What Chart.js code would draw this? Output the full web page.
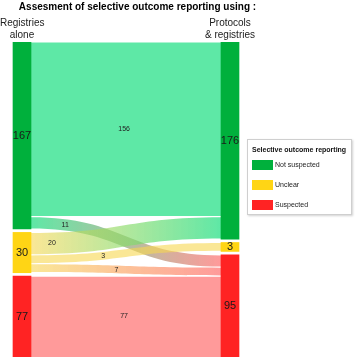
<!DOCTYPE html>
<html><head><meta charset="utf-8">
<script src="https://cdn.jsdelivr.net/npm/chart.js@4/dist/chart.umd.min.js"></script>
<style>
html,body{margin:0;padding:0;background:#fff;}
#wrap{position:relative;width:357px;height:357px;overflow:hidden;font-family:"Liberation Sans",Arial,sans-serif;}
#c{position:absolute;left:0;top:0;}
.t{position:absolute;white-space:nowrap;}
#title{left:0;width:275px;top:1px;text-align:center;font-weight:bold;font-size:10px;line-height:12px;color:#000;}
.hdr{top:17px;text-align:center;font-size:10px;line-height:11.5px;color:#222;}
#legend{position:absolute;left:247px;top:139px;width:103px;height:74px;border:1px solid #cfcfcf;box-shadow:1px 1px 2px rgba(0,0,0,0.18);background:#fff;}
#legend .lt{position:absolute;left:4px;top:5px;font-weight:bold;font-size:7px;line-height:9px;color:#111;white-space:nowrap;}
#legend .it{position:absolute;left:4px;height:10px;width:95px;}
#legend .sw{position:absolute;left:0;top:0;width:21px;height:10px;}
#legend .lb{position:absolute;left:23px;top:0;font-size:7px;line-height:10px;color:#222;white-space:nowrap;}
</style>
</head><body>
<div id="wrap">
<canvas id="c" width="357" height="357"></canvas>
<div id="title" class="t"></div>
<div id="h0" class="t hdr"></div>
<div id="h1" class="t hdr"></div>
<div id="legend"><div class="lt" id="legTitle"></div></div>
</div>
<script>
// ---- data ----
const chartTitle = 'Assesment of selective outcome reporting using :';
const columnLabels = [['Registries', 'alone'], ['Protocols', '& registries']];
const legendTitle = 'Selective outcome reporting';
const categories = ['Not suspected', 'Unclear', 'Suspected'];
const flowSource = [0, 0, 1, 1, 1, 2];
const flowTarget = [0, 2, 0, 1, 2, 2];
const flowValues = [156, 11, 20, 3, 7, 77];

// ---- styles / layout ----
const nodeColors = ['#00b03c', '#ffd515', '#ff2323'];
const flowColors = ['rgba(26,222,128,0.7)', 'rgba(247,215,80,0.6)', 'rgba(255,100,100,0.65)'];
const flowLabelT = [0.49, 0.18, 0.11, 0.38, 0.45, 0.49];
const GAP = 3;        // gap between nodes (value units)
const MIN_FLOW = 8;   // minimum drawn thickness of a flow (value units)
const BAR_W = 18;

// ---- text ----
document.getElementById('title').textContent = chartTitle;
const h0 = document.getElementById('h0');
h0.innerHTML = columnLabels[0].join('<br>'); h0.style.left = '0px'; h0.style.width = '44px';
const h1 = document.getElementById('h1');
h1.innerHTML = columnLabels[1].join('<br>'); h1.style.left = '190px'; h1.style.width = '80px';
document.getElementById('legTitle').textContent = legendTitle;
const leg = document.getElementById('legend');
categories.forEach((c, i) => {
  const it = document.createElement('div');
  it.className = 'it'; it.style.top = (20 + i * 20) + 'px';
  const sw = document.createElement('div'); sw.className = 'sw'; sw.style.background = nodeColors[i];
  const lb = document.createElement('div'); lb.className = 'lb'; lb.textContent = c;
  it.appendChild(sw); it.appendChild(lb); leg.appendChild(it);
});

// ---- layout of nodes / flows in value units ----
const n = flowValues.length;
const thick = flowValues.map(v => Math.max(v, MIN_FLOW));
const fl = flowValues.map(() => ({}));
const nodes = [[], []];
for (let side = 0; side < 2; side++) {
  let cur = 0;
  categories.forEach((c, ci) => {
    const idx = [];
    for (let i = 0; i < n; i++) if ((side === 0 ? flowSource[i] : flowTarget[i]) === ci) idx.push(i);
    idx.sort((a, b) => side === 0 ? flowTarget[a] - flowTarget[b] : flowSource[a] - flowSource[b]);
    const start = cur; let total = 0;
    idx.forEach(i => {
      fl[i][side] = [cur, cur + thick[i]];
      cur += thick[i]; total += flowValues[i];
    });
    nodes[side][ci] = {start, end: cur, total};
    cur += GAP;
  });
}

const datasets = categories.map((c, ci) => ({
  label: c,
  data: [{x: 0, y: [nodes[0][ci].start, nodes[0][ci].end]}, {x: 1, y: [nodes[1][ci].start, nodes[1][ci].end]}],
  backgroundColor: nodeColors[ci],
  borderWidth: 0,
  barThickness: BAR_W,
  grouped: false
}));

function bez(p0, p1, p2, p3, s) {
  const u = 1 - s;
  return u*u*u*p0 + 3*u*u*s*p1 + 3*u*s*s*p2 + s*s*s*p3;
}

const flowPlugin = {
  id: 'flows',
  beforeDatasetsDraw(chart) {
    const {ctx, chartArea: a, scales: {x, y}} = chart;
    const half = chart.getDatasetMeta(0).data[0].width / 2;
    const x0 = x.getPixelForValue(0) + half, x1 = x.getPixelForValue(1) - half;
    const mx = (x0 + x1) / 2;
    ctx.save();
    ctx.beginPath(); ctx.rect(a.left, a.top, a.right - a.left, a.bottom - a.top); ctx.clip();
    for (let i = 0; i < n; i++) {
      const ins = 0.6;
      const ya = y.getPixelForValue(fl[i][0][0]) + ins, yb = y.getPixelForValue(fl[i][0][1]) - ins;
      const za = y.getPixelForValue(fl[i][1][0]) + ins, zb = y.getPixelForValue(fl[i][1][1]) - ins;
      ctx.beginPath();
      ctx.moveTo(x0, ya);
      ctx.bezierCurveTo(mx, ya, mx, za, x1, za);
      ctx.lineTo(x1, zb);
      ctx.bezierCurveTo(mx, zb, mx, yb, x0, yb);
      ctx.closePath();
      const cs = flowColors[flowSource[i]], ct = flowColors[flowTarget[i]];
      if (cs === ct) ctx.fillStyle = cs;
      else {
        const g = ctx.createLinearGradient(x0, 0, x1, 0);
        g.addColorStop(0, cs); g.addColorStop(1, ct);
        ctx.fillStyle = g;
      }
      ctx.fill();
    }
    ctx.restore();
  },
  afterDatasetsDraw(chart) {
    const {ctx, chartArea: a, scales: {x, y}} = chart;
    const half = chart.getDatasetMeta(0).data[0].width / 2;
    const x0 = x.getPixelForValue(0) + half, x1 = x.getPixelForValue(1) - half;
    const mx = (x0 + x1) / 2;
    ctx.save();
    ctx.textAlign = 'center'; ctx.textBaseline = 'middle';
    // flow labels
    ctx.font = '7px "Liberation Sans", Arial, sans-serif';
    ctx.fillStyle = '#222';
    for (let i = 0; i < n; i++) {
      const tx = x0 + flowLabelT[i] * (x1 - x0);
      let lo = 0, hi = 1;
      for (let k = 0; k < 40; k++) { const m = (lo + hi) / 2; if (bez(x0, mx, mx, x1, m) < tx) lo = m; else hi = m; }
      const s = (lo + hi) / 2;
      let ta = bez(y.getPixelForValue(fl[i][0][0]), y.getPixelForValue(fl[i][0][0]), y.getPixelForValue(fl[i][1][0]), y.getPixelForValue(fl[i][1][0]), s);
      let tb = bez(y.getPixelForValue(fl[i][0][1]), y.getPixelForValue(fl[i][0][1]), y.getPixelForValue(fl[i][1][1]), y.getPixelForValue(fl[i][1][1]), s);
      ta = Math.max(ta, a.top); tb = Math.min(tb, a.bottom);
      ctx.fillText(String(flowValues[i]), tx, (ta + tb) / 2);
    }
    // node labels
    ctx.font = '11px "Liberation Sans", Arial, sans-serif';
    ctx.fillStyle = '#1a1a1a';
    for (let side = 0; side < 2; side++) {
      categories.forEach((c, ci) => {
        const nd = nodes[side][ci];
        const t = Math.max(y.getPixelForValue(nd.start), a.top);
        const b = Math.min(y.getPixelForValue(nd.end), a.bottom);
        ctx.fillText(String(nd.total), x.getPixelForValue(side), (t + b) / 2 + 0.5);
      });
    }
    ctx.restore();
  }
};

new Chart(document.getElementById('c'), {
  type: 'bar',
  data: {datasets},
  options: {
    responsive: false,
    animation: false,
    devicePixelRatio: 1,
    layout: {padding: {top: 42, left: 0, right: 0, bottom: 0}},
    scales: {
      x: {type: 'linear', display: false, offset: false, min: -22 / 208, max: (357 - 22) / 208},
      y: {type: 'linear', display: false, reverse: true, min: 0, max: 315 / 1.12, beginAtZero: true}
    },
    plugins: {legend: {display: false}, tooltip: {enabled: false}, title: {display: false}}
  },
  plugins: [flowPlugin]
});
</script>
</body></html>
